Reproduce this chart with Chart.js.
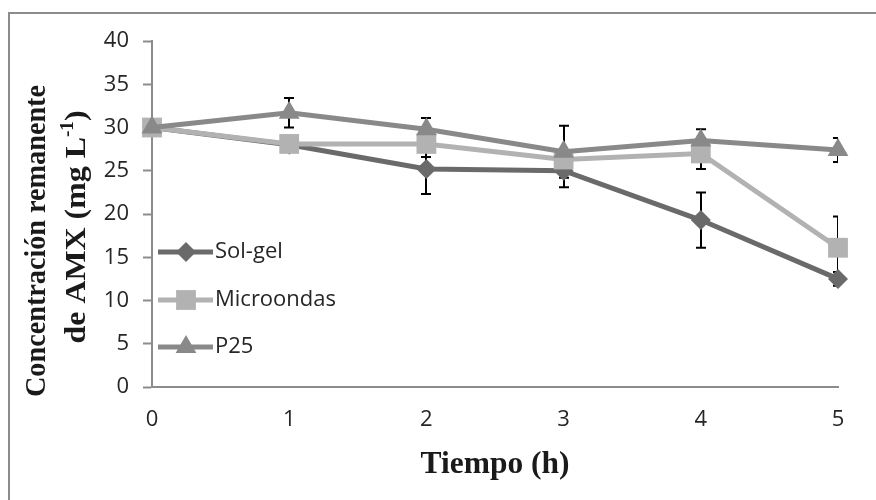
<!DOCTYPE html>
<html><head><meta charset="utf-8">
<script src="https://cdn.jsdelivr.net/npm/chart.js@4/dist/chart.umd.min.js"></script>
<style>html,body{margin:0;padding:0;background:#fff;overflow:hidden}#wrap{width:876px;height:500px;position:relative}</style>
</head><body><div id="wrap"><canvas id="c" width="876" height="500"></canvas></div>
<script>
// ---- data ----
const timeLabels = ['0', '1', '2', '3', '4', '5'];
const seriesNames = ['Sol-gel', 'Microondas', 'P25'];
const solGel = [30.0, 28.0, 25.2, 25.0, 19.3, 12.5];
const solGelErr = [0, 0.5, 2.9, 1.9, 3.2, 0.8];
const microondas = [30.0, 28.1, 28.1, 26.3, 27.0, 16.1];
const microondasErr = [0, 0.5, 1.5, 1.0, 1.8, 3.6];
const p25 = [30.0, 31.7, 29.8, 27.2, 28.5, 27.4];
const p25Err = [0, 1.7, 1.3, 3.0, 1.3, 1.4];
const yMin = 0, yMax = 40, yStep = 5;
const xTitle = 'Tiempo (h)';
const yTitleLine1 = 'Concentración remanente';
const yTitleLine2 = ['de AMX (mg L', '-1', ')'];

const colors = ['#6a6a6a', '#b2b2b2', '#898989'];
const shapes = ['rectRot', 'rect', 'triangle'];
const radii = [10, 14, 12];
const seriesValues = [solGel, microondas, p25];
const seriesErrors = [solGelErr, microondasErr, p25Err];

const errorBars = {
  id: 'errorBars',
  beforeDatasetsDraw(chart) {
    const ctx = chart.ctx, y = chart.scales.y, a = chart.chartArea;
    ctx.save();
    ctx.beginPath();
    ctx.rect(a.left - 20, a.top - 20, a.right - a.left + 20, a.bottom - a.top + 40);
    ctx.clip();
    ctx.strokeStyle = '#000';
    ctx.lineWidth = 2;
    chart.data.datasets.forEach((ds, i) => {
      const meta = chart.getDatasetMeta(i);
      ds.data.forEach((v, j) => {
        const e = ds.errors[j];
        if (!e) return;
        const px = Math.round(meta.data[j].x);
        const t = y.getPixelForValue(v + e), b = y.getPixelForValue(v - e);
        ctx.beginPath();
        ctx.moveTo(px, t); ctx.lineTo(px, b);
        ctx.moveTo(px - 5, t); ctx.lineTo(px + 5, t);
        ctx.moveTo(px - 5, b); ctx.lineTo(px + 5, b);
        ctx.stroke();
      });
    });
    ctx.restore();
  }
};

function drawFitted(ctx, parts, targetW) {
  let w = 0;
  parts.forEach(p => { ctx.font = p.font; p.w = ctx.measureText(p.text).width; w += p.w; });
  const s = targetW / w;
  ctx.save();
  ctx.scale(s, 1);
  let x = -w / 2;
  parts.forEach(p => { ctx.font = p.font; ctx.fillText(p.text, x, p.dy || 0); x += p.w; });
  ctx.restore();
}

const decor = {
  id: 'decor',
  beforeDraw(chart) {
    const ctx = chart.ctx;
    ctx.save();
    ctx.fillStyle = '#fff';
    ctx.fillRect(0, 0, chart.width, chart.height);
    ctx.strokeStyle = '#8c8c8c';
    ctx.lineWidth = 2;
    ctx.strokeRect(9, 13, 900, 600);
    ctx.restore();
  },
  afterDraw(chart) {
    const ctx = chart.ctx;
    ctx.save();
    ctx.fillStyle = '#1a1a1a';
    ctx.textBaseline = 'alphabetic';
    ctx.textAlign = 'left';
    ctx.save();
    ctx.translate(495, 473);
    drawFitted(ctx, [{text: xTitle, font: 'bold 31px "Liberation Serif"'}], 149);
    ctx.restore();
    ctx.save();
    ctx.translate(45, 241);
    ctx.rotate(-Math.PI / 2);
    drawFitted(ctx, [{text: yTitleLine1, font: 'bold 30px "Liberation Serif"'}], 312);
    ctx.restore();
    ctx.save();
    ctx.translate(85, 227);
    ctx.rotate(-Math.PI / 2);
    drawFitted(ctx, [
      {text: yTitleLine2[0], font: 'bold 30px "Liberation Serif"'},
      {text: yTitleLine2[1], font: 'bold 18px "Liberation Serif"', dy: -12},
      {text: yTitleLine2[2], font: 'bold 30px "Liberation Serif"'}
    ], 233);
    ctx.restore();
    const legY = [252, 300, 347];
    chart.data.datasets.forEach((ds, i) => {
      const yy = legY[i];
      ctx.strokeStyle = ds.borderColor;
      ctx.lineWidth = 5;
      ctx.beginPath();
      ctx.moveTo(158, yy); ctx.lineTo(213, yy);
      ctx.stroke();
      ctx.fillStyle = ds.pointBackgroundColor;
      Chart.helpers.drawPoint(ctx, {pointStyle: ds.pointStyle, radius: ds.pointRadius, borderWidth: 0, rotation: 0}, 186, yy);
      ctx.fillStyle = '#262626';
      ctx.font = '22px "Open Sans"';
      ctx.textBaseline = 'middle';
      ctx.fillText(ds.label, 215, yy);
    });
    ctx.restore();
  }
};

new Chart(document.getElementById('c'), {
  type: 'line',
  data: {
    labels: timeLabels,
    datasets: seriesNames.map((name, i) => ({
      label: name,
      data: seriesValues[i],
      errors: seriesErrors[i],
      borderColor: colors[i],
      backgroundColor: colors[i],
      pointBackgroundColor: colors[i],
      pointBorderColor: colors[i],
      pointBorderWidth: 0,
      pointStyle: shapes[i],
      pointRadius: radii[i],
      pointHoverRadius: radii[i],
      borderWidth: 5,
      tension: 0,
      fill: false,
      order: 3 - i
    }))
  },
  options: {
    responsive: false,
    animation: false,
    devicePixelRatio: 1,
    layout: {padding: {left: 0, right: 38, top: 41, bottom: 0}},
    plugins: {legend: {display: false}, tooltip: {enabled: false}},
    scales: {
      x: {
        type: 'category',
        offset: false,
        afterFit(s) { s.height = 113; },
        grid: {display: true, drawOnChartArea: false, drawTicks: false},
        border: {display: true, color: '#8c8c8c', width: 2},
        ticks: {color: '#262626', font: {family: 'Open Sans', size: 22}, padding: 20, maxRotation: 0}
      },
      y: {
        min: yMin, max: yMax,
        afterFit(s) { s.width = 152; },
        grid: {display: true, drawOnChartArea: false, drawTicks: true, tickLength: 9, color: '#8c8c8c', tickWidth: 2},
        border: {display: true, color: '#8c8c8c', width: 2},
        ticks: {stepSize: yStep, color: '#262626', font: {family: 'Open Sans', size: 22}, padding: 14}
      }
    }
  },
  plugins: [decor, errorBars]
});
</script>
</body></html>
